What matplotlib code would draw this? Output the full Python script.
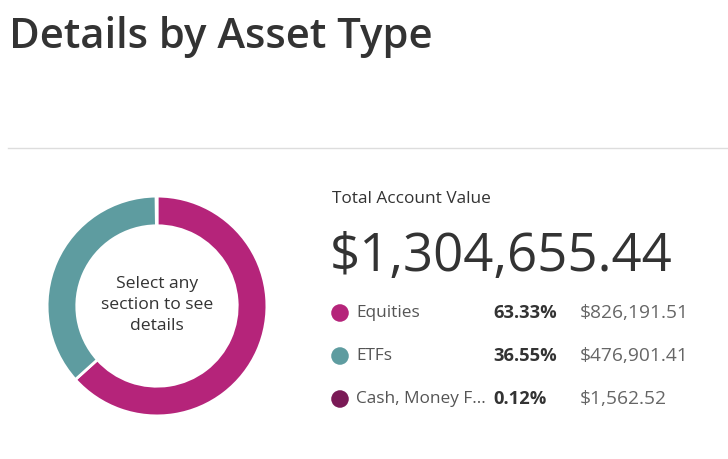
import matplotlib
matplotlib.use("Agg")
import matplotlib.pyplot as plt

categories = ["Equities", "ETFs", "Cash, Money F..."]
amounts = [826191.51, 476901.41, 1562.52]
percents = ["63.33%", "36.55%", "0.12%"]
amount_labels = ["$826,191.51", "$476,901.41", "$1,562.52"]
total_label = "$1,304,655.44"
colors = ["#B5247A", "#5E9CA0", "#7A1A56"]

W, H = 728, 459
plt.rcParams['font.family'] = ['Open Sans', 'DejaVu Sans']
fig = plt.figure(figsize=(W / 100, H / 100), dpi=100)

def px(x, y):
    return x / W, 1 - y / H

# title and rule
fig.text(*px(9, 37), "Details by Asset Type", fontsize=30.2, color="#333333",
         fontweight="semibold", va="center", ha="left")
line_ax = fig.add_axes([0, 0, 1, 1], zorder=-1)
line_ax.set_xlim(0, W)
line_ax.set_ylim(H, 0)
line_ax.axis("off")
line_ax.plot([8, W], [147.5, 147.5], color="#DDDDDD", lw=1)

# donut
cx, cy, r = 157, 306, 111
ax = fig.add_axes([(cx - r) / W, 1 - (cy + r) / H, 2 * r / W, 2 * r / H])
ax.pie(amounts, colors=colors, startangle=90, counterclock=False,
       wedgeprops=dict(width=0.27, edgecolor="white", linewidth=2))
ax.set_xlim(-1.01, 1.01)
ax.set_ylim(-1.01, 1.01)
ax.set_aspect("equal")
ax.text(0, 0.01, "Select any\nsection to see\ndetails", ha="center", va="center",
        fontsize=12.6, color="#333333", linespacing=1.45)

# right panel
fig.text(*px(332, 199), "Total Account Value", fontsize=12.4, color="#333333",
         va="center", ha="left")
fig.text(*px(330, 257), total_label, fontsize=38, color="#333333",
         va="center", ha="left")

row_y = [313, 356, 399]
for name, pct, amt, col, y in zip(categories, percents, amount_labels, colors, row_y):
    line_ax.scatter([340], [y], s=160, color=col, edgecolors="none")
    fig.text(*px(356, y), name, fontsize=12.4, color="#555555", va="center", ha="left")
    fig.text(*px(493, y), pct, fontsize=13.2, color="#333333", fontweight="bold",
             va="center", ha="left")
    fig.text(*px(580, y), amt, fontsize=13.8, color="#666666", va="center", ha="left")

fig.savefig("out.png", dpi=100, facecolor="white")
